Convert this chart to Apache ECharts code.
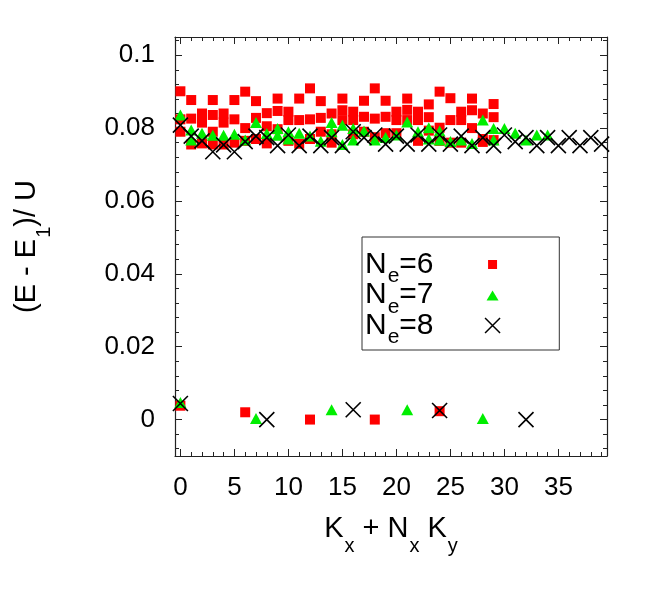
<!DOCTYPE html>
<html>
<head>
<meta charset="utf-8">
<script src="https://cdn.jsdelivr.net/npm/echarts@6/dist/echarts.min.js"></script>
<style>
  html, body { margin: 0; padding: 0; background: #fff; }
  #chart { width: 664px; height: 591px; }
</style>
</head>
<body>
<div id="chart"></div>
<script>
const xMajorTicks = [0, 5, 10, 15, 20, 25, 30, 35]
const yMajorTicks = [0, 0.02, 0.04, 0.06, 0.08, 0.1]
const seriesNames = ['Ne=6', 'Ne=7', 'Ne=8']
const legendDigits = ['6', '7', '8']

// [Kx + Nx Ky, (E - E1)/U]
const ne6Points = [
  [0, 0.0038], [0, 0.0790], [0, 0.0824], [0, 0.0901],
  [1, 0.0877], [1, 0.0826], [1, 0.0755],
  [2, 0.0840], [2, 0.0815], [2, 0.0758],
  [3, 0.0877], [3, 0.0836], [3, 0.0790], [3, 0.0755],
  [4, 0.0840], [4, 0.0815], [4, 0.0755],
  [5, 0.0877], [5, 0.0824], [5, 0.0760],
  [6, 0.0020], [6, 0.0900], [6, 0.0800], [6, 0.0765],
  [7, 0.0874], [7, 0.0828], [7, 0.0770],
  [8, 0.0841], [8, 0.0805], [8, 0.0758],
  [9, 0.0881], [9, 0.0847], [9, 0.0797],
  [10, 0.0845], [10, 0.0822], [10, 0.0765],
  [11, 0.0881], [11, 0.0822], [11, 0.0757],
  [12, 0.0000], [12, 0.0909], [12, 0.0824], [12, 0.0770],
  [13, 0.0874], [13, 0.0828], [13, 0.0790],
  [14, 0.0840], [14, 0.0783], [14, 0.0760],
  [15, 0.0881], [15, 0.0849], [15, 0.0822],
  [16, 0.0845], [16, 0.0822], [16, 0.0783],
  [17, 0.0875], [17, 0.0831], [17, 0.0790],
  [18, 0.0000], [18, 0.0909], [18, 0.0826], [18, 0.0775],
  [19, 0.0875], [19, 0.0831], [19, 0.0786],
  [20, 0.0845], [20, 0.0822], [20, 0.0786],
  [21, 0.0881], [21, 0.0850], [21, 0.0822],
  [22, 0.0845], [22, 0.0822], [22, 0.0765],
  [23, 0.0865], [23, 0.0830], [23, 0.0793],
  [24, 0.0023], [24, 0.0900], [24, 0.0801], [24, 0.0765],
  [25, 0.0882], [25, 0.0822], [25, 0.0760],
  [26, 0.0845], [26, 0.0822], [26, 0.0760],
  [27, 0.0881], [27, 0.0849], [27, 0.0800],
  [28, 0.0840], [28, 0.0770], [28, 0.0762],
  [29, 0.0866], [29, 0.0830], [29, 0.0767]
]

const ne7Points = [
  [0, 0.0047], [0, 0.0836],
  [1, 0.0795], [1, 0.0767],
  [2, 0.0786], [3, 0.0780], [4, 0.0780], [5, 0.0783], [6, 0.0767],
  [7, 0.0003], [7, 0.0815],
  [8, 0.0785],
  [9, 0.0799], [9, 0.0780],
  [10, 0.0790], [10, 0.0770],
  [11, 0.0786], [12, 0.0778], [13, 0.0764],
  [14, 0.0027], [14, 0.0815], [14, 0.0790],
  [15, 0.0808], [15, 0.0755],
  [16, 0.0799], [16, 0.0767],
  [17, 0.0792], [18, 0.0767], [19, 0.0774], [20, 0.0781],
  [21, 0.0027], [21, 0.0817],
  [22, 0.0790],
  [23, 0.0801], [23, 0.0770],
  [24, 0.0792], [24, 0.0767],
  [25, 0.0763], [26, 0.0767], [27, 0.0758],
  [28, 0.0003], [28, 0.0822],
  [29, 0.0799], [29, 0.0767],
  [30, 0.0799], [31, 0.0786], [32, 0.0767], [33, 0.0781], [34, 0.0781]
]

const ne8Points = [
  [0, 0.0044], [0, 0.0808],
  [1, 0.0778], [2, 0.0765], [3, 0.0735], [4, 0.0754], [5, 0.0735],
  [6, 0.0763], [7, 0.0778],
  [8, 0.0000], [8, 0.0774],
  [9, 0.0752], [10, 0.0781], [11, 0.0752], [12, 0.0778], [13, 0.0752],
  [14, 0.0774], [15, 0.0752],
  [16, 0.0027], [16, 0.0790],
  [17, 0.0774], [18, 0.0781], [19, 0.0756], [20, 0.0778], [21, 0.0756],
  [22, 0.0781], [23, 0.0756],
  [24, 0.0025], [24, 0.0781],
  [25, 0.0756], [26, 0.0778], [27, 0.0752], [28, 0.0774], [29, 0.0752],
  [30, 0.0781], [31, 0.0763],
  [32, 0.0000], [32, 0.0774],
  [33, 0.0752], [34, 0.0774], [35, 0.0752], [36, 0.0774], [37, 0.0752],
  [38, 0.0774], [39, 0.0756]
]

const fontFamily = '"Liberation Sans", Arial, Helvetica, sans-serif'
const frameColor = '#222222'
const xMin = -0.5
const xMax = 39.5
const yMin = -0.01
const yMax = 0.105

const squareSymbol = 'path://M0,0M16,16M3.5,3.5h9v9h-9z'
const triangleSymbol = 'path://M0,0M16,16M2,13.5L8,3.5L14,13.5z'
const crossSymbol = 'path://M0,0M16,16M0.5,0.5L15.5,15.5M15.5,0.5L0.5,15.5'

function xMinorTicks() {
  const ticks = []
  for (let k = 0; k <= 39; k++) ticks.push(k)
  return ticks
}

function yMinorTicks() {
  const ticks = []
  for (let i = -2; i <= 26; i++) ticks.push(Number((i * 0.004).toFixed(3)))
  return ticks
}

function frameAxis(kind, position, tickValues, tickLength, withLine, withLabels) {
  const axis = {
    type: 'value',
    position,
    min: kind === 'x' ? xMin : yMin,
    max: kind === 'x' ? xMax : yMax,
    axisLine: { show: withLine, onZero: false, lineStyle: { color: frameColor, width: 1.2 } },
    axisTick: {
      show: true,
      inside: true,
      length: tickLength,
      customValues: tickValues,
      lineStyle: { color: frameColor, width: 1 }
    },
    axisLabel: { show: false },
    splitLine: { show: false }
  }
  if (withLabels) {
    axis.axisLabel = {
      show: true,
      customValues: tickValues,
      color: '#000',
      fontSize: 26,
      fontFamily,
      margin: kind === 'x' ? 19 : 20,
      formatter: value => String(Number(Number(value).toFixed(3)))
    }
  }
  return axis
}

const titleRich = {
  n: { fontSize: 29, fontFamily, color: '#000', lineHeight: 36 },
  s: { fontSize: 20, fontFamily, color: '#000', lineHeight: 20, padding: [22, 0, 0, 1], verticalAlign: 'top' }
}

const legendRich = {
  n: { fontSize: 30, fontFamily, color: '#000', lineHeight: 31 },
  s: { fontSize: 21, fontFamily, color: '#000', lineHeight: 21, padding: [17, 0, 0, 1], verticalAlign: 'top' },
  gap: { fontSize: 10, width: 46 }
}

const chart = echarts.init(document.getElementById('chart'))

const xAxes = [
  frameAxis('x', 'bottom', xMajorTicks, 7, true, true),
  frameAxis('x', 'bottom', xMinorTicks(), 4, false, false),
  frameAxis('x', 'top', xMajorTicks, 7, true, false),
  frameAxis('x', 'top', xMinorTicks(), 4, false, false)
]
xAxes[0].name = 'K{s|x} + N{s|x} K{s|y}'
xAxes[0].nameLocation = 'middle'
xAxes[0].nameGap = 58
xAxes[0].nameTextStyle = { rich: titleRich, fontSize: 29, fontFamily, color: '#000' }

const yAxes = [
  frameAxis('y', 'left', yMajorTicks, 7, true, true),
  frameAxis('y', 'left', yMinorTicks(), 4, false, false),
  frameAxis('y', 'right', yMajorTicks, 7, true, false),
  frameAxis('y', 'right', yMinorTicks(), 4, false, false)
]
yAxes[0].name = '(E - E{s|1})/ U'
yAxes[0].nameLocation = 'middle'
yAxes[0].nameGap = 134
yAxes[0].nameTextStyle = { rich: titleRich, fontSize: 29, fontFamily, color: '#000' }

const option = {
  backgroundColor: '#ffffff',
  animation: false,
  grid: { left: 175, right: 57, top: 37, bottom: 135 },
  xAxis: xAxes,
  yAxis: yAxes,
  legend: {
    orient: 'vertical',
    align: 'right',
    left: 362,
    top: 237,
    padding: [12, 58, 2, 3],
    itemGap: -7.5,
    itemWidth: 16,
    itemHeight: 16,
    borderColor: '#333333',
    borderWidth: 1,
    selectedMode: false,
    data: [
      { name: seriesNames[0], icon: squareSymbol, itemStyle: { color: '#ff0000', borderWidth: 0 } },
      { name: seriesNames[1], icon: triangleSymbol, itemStyle: { color: '#00ee00', borderWidth: 0 } },
      { name: seriesNames[2], icon: crossSymbol, itemStyle: { color: 'transparent', borderColor: '#000', borderWidth: 1.5 } }
    ],
    formatter(name) {
      const digit = legendDigits[seriesNames.indexOf(name)]
      return `{n|N}{s|e}{n|=${digit}}{gap| }`
    },
    textStyle: { rich: legendRich }
  },
  series: [
    {
      name: seriesNames[0],
      type: 'scatter',
      data: ne6Points,
      symbol: 'rect',
      symbolSize: 10,
      itemStyle: { color: '#ff0000', opacity: 1 }
    },
    {
      name: seriesNames[1],
      type: 'scatter',
      data: ne7Points,
      symbol: 'triangle',
      symbolSize: [12, 11],
      itemStyle: { color: '#00ee00', opacity: 1 }
    },
    {
      name: seriesNames[2],
      type: 'scatter',
      data: ne8Points,
      symbol: 'path://M0,0L10,10M10,0L0,10',
      symbolSize: 15,
      itemStyle: { color: 'transparent', borderColor: '#000000', borderWidth: 1.6, opacity: 1 }
    }
  ]
}

chart.setOption(option)
</script>
</body>
</html>
